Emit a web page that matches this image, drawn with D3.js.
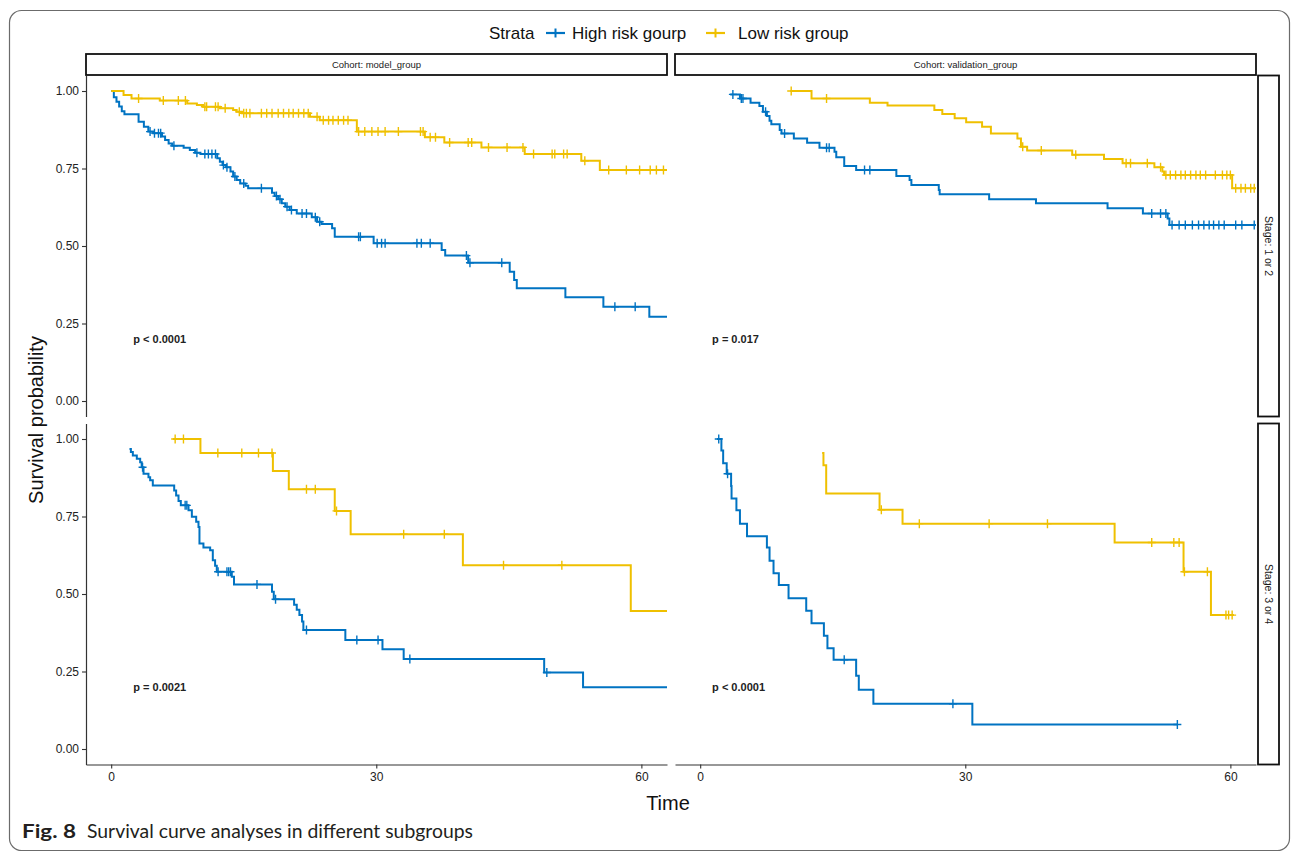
<!DOCTYPE html>
<html>
<head>
<meta charset="utf-8">
<script src="https://cdn.jsdelivr.net/npm/d3@7"></script>
<style>
  body { margin: 0; background: #fff; }
  svg { display: block; }
</style>
</head>
<body>
<svg id="chart" width="1293" height="852"></svg>
<script>
// ---- facet labels, strata and ticks ----
const cohorts = ["model_group", "validation_group"];
const stages = ["1 or 2", "3 or 4"];
const strata = ["High risk gourp", "Low risk group"];
const xTicks = [0, 30, 60];
const yTicks = [0, 0.25, 0.5, 0.75, 1];
// log-rank p values: [stage row][cohort column]
const pValues = [["p < 0.0001", "p = 0.017"], ["p = 0.0021", "p < 0.0001"]];

// ---- Kaplan-Meier steps: [time, survival after the event] ----
const modelEarlyHigh = [[0,1],[0.3,0.98],[0.6,0.965],[0.9,0.95],[1.2,0.935],[1.5,0.925],[3.1,0.901],[3.7,0.885],[4.2,0.869],[4.75,0.864],[5.75,0.853],[6.1,0.842],[6.5,0.831],[6.9,0.823],[8.2,0.817],[8.9,0.81],[9.5,0.801],[10.1,0.797],[12.0,0.783],[12.3,0.772],[12.6,0.761],[13.0,0.754],[13.5,0.74],[13.8,0.724],[14.2,0.713],[14.6,0.702],[15.2,0.694],[15.5,0.686],[18.2,0.672],[18.5,0.661],[18.9,0.651],[19.3,0.638],[19.7,0.627],[20.2,0.616],[21.0,0.605],[22.7,0.593],[23.3,0.578],[23.8,0.571],[25.0,0.557],[25.3,0.53],[29.7,0.509],[37.4,0.487],[37.8,0.469],[40.4,0.446],[45.1,0.417],[45.6,0.39],[45.9,0.364],[51.4,0.335],[55.7,0.304],[60.9,0.272],[62.9,0.272]];
const modelEarlyHighCensor = [4.4,4.9,5.35,5.6,7.1,9.7,10.6,11.0,11.4,11.8,12.7,13.1,14.0,15.0,17.0,18.7,19.1,19.9,20.4,21.6,22.1,23.1,23.6,28.0,28.2,30.1,30.6,31.0,34.6,35.1,36.1,40.2,40.6,44.2,57.0,59.3];

const modelEarlyLow = [[0,1],[1.4,0.987],[2.3,0.976],[5.5,0.969],[8.6,0.96],[9.7,0.955],[10.4,0.949],[12.3,0.944],[13.8,0.939],[14.2,0.933],[14.8,0.928],[22.5,0.917],[23.6,0.906],[27.8,0.869],[35.5,0.851],[37.7,0.834],[41.9,0.818],[46.8,0.797],[53.2,0.775],[55.3,0.745],[62.9,0.745]];
const modelEarlyLowCensor = [3.1,5.9,7.6,8.4,10.6,10.8,11.8,12.1,12.9,14.5,15.0,15.3,15.7,17.0,17.6,18.2,18.9,19.5,20.1,20.6,21.2,21.8,22.3,23.3,24.0,24.6,25.1,25.7,26.3,26.8,28.0,28.7,29.5,30.2,31.0,32.5,35.0,35.3,36.1,36.7,38.3,40.4,40.8,42.7,44.8,46.6,47.8,49.9,50.2,51.2,51.6,53.6,56.3,58.3,59.8,61.0,61.7,62.5];

const validationEarlyHigh = [[3.4,0.989],[4.5,0.976],[5.7,0.962],[6.7,0.952],[7.1,0.933],[7.55,0.919],[7.85,0.904],[8.05,0.893],[9.0,0.874],[9.2,0.863],[10.6,0.847],[12.1,0.833],[13.5,0.817],[15.2,0.804],[15.4,0.786],[16.3,0.758],[17.65,0.745],[22.2,0.726],[23.7,0.713],[23.9,0.697],[27.0,0.681],[27.1,0.667],[32.7,0.651],[38.0,0.638],[46.1,0.622],[50.1,0.605],[52.9,0.589],[53.1,0.568],[62.9,0.568]];
const validationEarlyHighCensor = [3.7,4.65,4.84,7.4,9.55,14.3,14.6,18.6,19.2,51.1,52.1,52.7,53.4,54.2,54.9,55.7,56.4,57.0,57.6,58.1,58.7,59.3,60.6,61.3,62.7];

const validationEarlyLow = [[10.2,1],[12.6,0.976],[19.2,0.962],[21.2,0.953],[26.5,0.939],[27.4,0.926],[28.8,0.912],[30.1,0.899],[31.9,0.885],[32.9,0.863],[35.9,0.847],[36.3,0.82],[37.0,0.808],[42.1,0.794],[45.7,0.781],[47.8,0.767],[51.4,0.754],[52.3,0.74],[52.5,0.729],[60.2,0.686],[62.9,0.686]];
const validationEarlyLowCensor = [10.3,14.3,36.5,38.6,42.5,48.2,48.7,50.6,52.1,52.7,53.2,53.8,54.4,54.9,55.5,56.1,56.6,57.2,58.3,59.1,59.6,60.0,60.6,61.2,61.7,62.3,62.7];

const modelLateHigh = [[2.07,0.968],[2.23,0.958],[2.45,0.947],[2.9,0.936],[3.28,0.925],[3.45,0.909],[3.66,0.888],[4.22,0.877],[4.41,0.867],[4.71,0.85],[7.13,0.834],[7.35,0.818],[7.62,0.8],[7.88,0.786],[8.75,0.77],[9.13,0.749],[9.62,0.733],[9.88,0.716],[9.99,0.663],[10.44,0.65],[11.2,0.641],[11.5,0.609],[11.76,0.591],[11.95,0.572],[13.65,0.556],[13.9,0.531],[18.2,0.507],[18.4,0.483],[20.7,0.465],[21.0,0.449],[21.3,0.432],[21.6,0.411],[21.75,0.384],[26.5,0.352],[30.7,0.322],[33.1,0.29],[49.0,0.247],[53.4,0.199],[62.9,0.199]];
const modelLateHighCensor = [3.55,8.37,8.56,12.1,13.1,13.3,13.5,16.5,18.6,22.1,27.8,30.2,33.8,49.3];

const modelLateLow = [[6.98,1],[10.1,0.955],[18.3,0.897],[20.1,0.838],[25.3,0.768],[27.1,0.693],[39.8,0.593],[58.8,0.445],[62.9,0.445]];
const modelLateLowCensor = [7.24,8.18,12.07,14.78,16.67,18.2,22.1,23.1,25.5,33.1,37.7,44.4,51.0];

const validationLateHigh = [[1.9,1],[2.4,0.963],[2.6,0.922],[3.0,0.888],[3.5,0.848],[3.55,0.808],[4.1,0.77],[4.5,0.727],[5.3,0.686],[7.55,0.65],[7.85,0.607],[8.3,0.567],[8.9,0.529],[10.0,0.486],[12.0,0.446],[12.6,0.406],[14.0,0.365],[14.4,0.325],[15.1,0.288],[17.65,0.236],[17.95,0.191],[19.6,0.146],[30.8,0.079],[54.0,0.079]];
const validationLateHighCensor = [2.1,3.1,16.3,28.6,54.0];

const validationLateLow = [[13.8,0.955],[13.95,0.915],[14.26,0.824],[20.3,0.772],[22.9,0.727],[46.9,0.666],[54.7,0.572],[57.8,0.432],[60.4,0.432]];
const validationLateLowCensor = [20.5,24.8,32.7,39.3,51.1,53.6,54.2,54.8,57.4,59.5,59.8,60.2];

// ---- facet table assembled from the arrays above ----
const facets = [
  { row: 0, col: 0, curves: [[modelEarlyHigh, modelEarlyHighCensor], [modelEarlyLow, modelEarlyLowCensor]] },
  { row: 0, col: 1, curves: [[validationEarlyHigh, validationEarlyHighCensor], [validationEarlyLow, validationEarlyLowCensor]] },
  { row: 1, col: 0, curves: [[modelLateHigh, modelLateHighCensor], [modelLateLow, modelLateLowCensor]] },
  { row: 1, col: 1, curves: [[validationLateHigh, validationLateHighCensor], [validationLateLow, validationLateLowCensor]] }
];

// ---- layout & style ----
const colors = ["#0073C2", "#EFC000"];
const FONT = "'Liberation Sans', Arial, Helvetica, sans-serif";
const colX = [86, 675];
const rowY = [75.5, 423.5];
const panelW = 581, panelH = 341;
const pTextTime = [2.5, 1.35];   // left edge of the p-value label, per column (time units)

const svg = d3.select("#chart");
svg.append("rect").attr("width", 1293).attr("height", 852).attr("fill", "#fff");

// figure frame
svg.append("rect")
  .attr("x", 9.5).attr("y", 10.5).attr("width", 1280).attr("height", 840)
  .attr("rx", 12).attr("fill", "none").attr("stroke", "#6b6b6b").attr("stroke-width", 1.2);

const x = d3.scaleLinear().domain([-2.85, 62.9]).range([0, panelW]);
const y = d3.scaleLinear().domain([-0.05, 1.05]).range([panelH, 0]);

const stepLine = d3.line()
  .x(d => x(d[0]))
  .y(d => y(d[1]))
  .curve(d3.curveStepAfter);

const bis = d3.bisector(d => d[0]).right;
const survAt = (steps, t) => steps[Math.max(0, bis(steps, t) - 1)][1];
const plusPath = "M-4,0H4M0,-4.5V4.5";

const defs = svg.append("defs");

facets.forEach((f, i) => {
  const g = svg.append("g").attr("transform", `translate(${colX[f.col]},${rowY[f.row]})`);
  defs.append("clipPath").attr("id", "clip" + i)
    .append("rect").attr("width", panelW).attr("height", panelH);
  const plot = g.append("g").attr("clip-path", `url(#clip${i})`);

  f.curves.forEach((c, gi) => {
    const [steps, censor] = c;
    plot.append("path")
      .datum(steps)
      .attr("d", stepLine)
      .attr("fill", "none")
      .attr("stroke", colors[gi])
      .attr("stroke-width", 2);
    plot.selectAll(null)
      .data(censor)
      .join("path")
      .attr("transform", t => `translate(${x(t)},${y(survAt(steps, t))})`)
      .attr("d", plusPath)
      .attr("stroke", colors[gi])
      .attr("stroke-width", 1.4)
      .attr("fill", "none");
  });

  // p value
  g.append("text")
    .attr("x", x(pTextTime[f.col])).attr("y", y(0.2)).attr("dy", "0.35em")
    .attr("font-family", FONT).attr("font-size", 11).attr("font-weight", "bold")
    .attr("fill", "#222")
    .text(pValues[f.row][f.col]);
});

// y axes (left column only)
rowY.forEach(ry => {
  const ax = svg.append("g").attr("transform", `translate(${colX[0]},${ry})`)
    .call(d3.axisLeft(y).tickValues(yTicks).tickFormat(d3.format(".2f")).tickSize(4).tickSizeOuter(0).tickPadding(3));
  ax.select(".domain").attr("stroke", "#333").attr("stroke-width", 1.2);
  ax.selectAll(".tick line").attr("stroke", "#333").attr("stroke-width", 1.1);
  ax.selectAll(".tick text").attr("font-family", FONT).attr("font-size", 12).attr("fill", "#222");
});

// x axes (bottom row only)
colX.forEach(cx => {
  const ax = svg.append("g").attr("transform", `translate(${cx},${rowY[1] + panelH})`)
    .call(d3.axisBottom(x).tickValues(xTicks).tickSize(4).tickSizeOuter(0).tickPadding(4));
  ax.select(".domain").attr("stroke", "#333").attr("stroke-width", 1.2);
  ax.selectAll(".tick line").attr("stroke", "#333").attr("stroke-width", 1.1);
  ax.selectAll(".tick text").attr("font-family", FONT).attr("font-size", 12).attr("fill", "#222");
});

// top strips (cohort)
cohorts.forEach((c, i) => {
  const s = svg.append("g").attr("transform", `translate(${colX[i]},54)`);
  s.append("rect").attr("width", panelW).attr("height", 21)
    .attr("fill", "#fff").attr("stroke", "#111").attr("stroke-width", 1.8);
  s.append("text").attr("x", panelW / 2).attr("y", 10.5).attr("dy", "0.35em")
    .attr("text-anchor", "middle").attr("font-family", FONT).attr("font-size", 9.5).attr("fill", "#1a1a1a")
    .text("Cohort: " + c);
});

// right strips (stage)
stages.forEach((st, i) => {
  const s = svg.append("g").attr("transform", `translate(1258,${rowY[i]})`);
  s.append("rect").attr("width", 21).attr("height", panelH)
    .attr("fill", "#fff").attr("stroke", "#111").attr("stroke-width", 1.8);
  s.append("text").attr("transform", `translate(10.5,${panelH / 2}) rotate(90)`)
    .attr("dy", "0.35em").attr("text-anchor", "middle")
    .attr("font-family", FONT).attr("font-size", 10.5).attr("fill", "#1a1a1a")
    .text("Stage: " + st);
});

// axis titles
svg.append("text")
  .attr("transform", "translate(36,420) rotate(-90)")
  .attr("dy", "0.35em").attr("text-anchor", "middle")
  .attr("font-family", FONT).attr("font-size", 20).attr("fill", "#111")
  .text("Survival probability");
svg.append("text")
  .attr("x", 668).attr("y", 803).attr("dy", "0.35em").attr("text-anchor", "middle")
  .attr("font-family", FONT).attr("font-size", 20).attr("fill", "#111")
  .text("Time");

// legend
const lg = svg.append("g").attr("font-family", FONT).attr("font-size", 17).attr("fill", "#111");
lg.append("text").attr("x", 489).attr("y", 33).attr("dy", "0.35em").text("Strata");
const keyX = [546, 706], labX = [572, 738];
strata.forEach((s, i) => {
  const k = lg.append("g").attr("transform", `translate(${keyX[i]},33)`);
  k.append("line").attr("x1", 0).attr("x2", 19).attr("stroke", colors[i]).attr("stroke-width", 2.2);
  k.append("path").attr("transform", "translate(9.5,0)").attr("d", plusPath)
    .attr("stroke", colors[i]).attr("stroke-width", 2).attr("fill", "none");
  lg.append("text").attr("x", labX[i]).attr("y", 33).attr("dy", "0.35em").text(s);
});

// caption
const capFont = "Lato, 'Open Sans', sans-serif";
svg.append("text").attr("x", 22).attr("y", 838)
  .attr("font-family", capFont).attr("font-size", 18.5).attr("font-weight", "bold").attr("fill", "#231f20")
  .attr("textLength", 54).attr("lengthAdjust", "spacingAndGlyphs")
  .text("Fig. 8");
svg.append("text").attr("x", 87).attr("y", 838)
  .attr("font-family", capFont).attr("font-size", 18.5).attr("fill", "#231f20")
  .attr("textLength", 386).attr("lengthAdjust", "spacingAndGlyphs")
  .text("Survival curve analyses in different subgroups");
</script>
</body>
</html>
